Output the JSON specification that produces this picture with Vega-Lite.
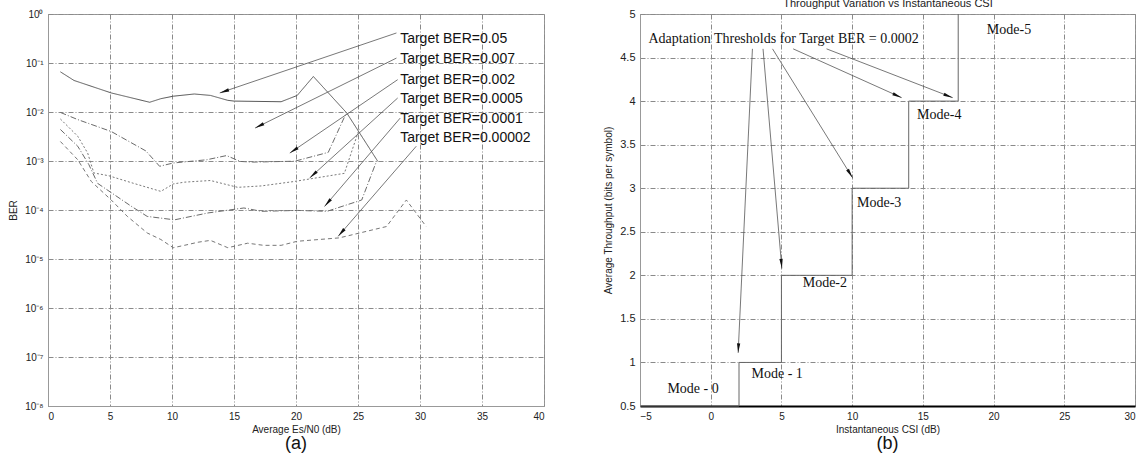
{
  "$schema": "https://vega.github.io/schema/vega-lite/v6.json",
  "autosize": {"type": "none"},
  "padding": {"left": 48, "top": 14, "right": 1090, "bottom": 451},
  "background": "white",
  "config": {
    "font": "Liberation Sans",
    "view": {"stroke": "#999", "strokeWidth": 1},
    "axis": {
      "labelFont": "Liberation Sans", "titleFont": "Liberation Sans",
      "labelFontSize": 10, "titleFontSize": 10, "titleFontWeight": "normal",
      "labelColor": "#222", "titleColor": "#222",
      "domainColor": "#999", "ticks": false, "labelPadding": 5,
      "gridColor": "#8a8a8a", "gridDash": [5, 2, 1, 2], "gridOpacity": 1, "gridWidth": 1
    },
    "title": {"font": "Liberation Sans", "fontWeight": "normal", "color": "#111"}
  },
  "datasets": {
    "curves": [
      {"curve": "C1", "esn0": 1, "ber": 0.066}, {"curve": "C1", "esn0": 2.1, "ber": 0.044}, {"curve": "C1", "esn0": 5.1, "ber": 0.0245}, {"curve": "C1", "esn0": 8.2, "ber": 0.0158}, {"curve": "C1", "esn0": 9.1, "ber": 0.0187}, {"curve": "C1", "esn0": 10.1, "ber": 0.021}, {"curve": "C1", "esn0": 11.8, "ber": 0.0233}, {"curve": "C1", "esn0": 13.1, "ber": 0.0218}, {"curve": "C1", "esn0": 14.5, "ber": 0.0173}, {"curve": "C1", "esn0": 15, "ber": 0.0167}, {"curve": "C1", "esn0": 18.8, "ber": 0.0162}, {"curve": "C1", "esn0": 20.1, "ber": 0.0218}, {"curve": "C1", "esn0": 21.4, "ber": 0.053}, {"curve": "C1", "esn0": 24.1, "ber": 0.0095}, {"curve": "C1", "esn0": 26.6, "ber": 0.00098},
      {"curve": "C2", "esn0": 1, "ber": 0.0098}, {"curve": "C2", "esn0": 2.4, "ber": 0.007}, {"curve": "C2", "esn0": 5.1, "ber": 0.004}, {"curve": "C2", "esn0": 6.3, "ber": 0.0027}, {"curve": "C2", "esn0": 7.9, "ber": 0.0016}, {"curve": "C2", "esn0": 9.0, "ber": 0.00078}, {"curve": "C2", "esn0": 10.1, "ber": 0.00091}, {"curve": "C2", "esn0": 12.8, "ber": 0.00106}, {"curve": "C2", "esn0": 14.4, "ber": 0.00129}, {"curve": "C2", "esn0": 15.5, "ber": 0.00098}, {"curve": "C2", "esn0": 16.5, "ber": 0.00095}, {"curve": "C2", "esn0": 19.9, "ber": 0.00099}, {"curve": "C2", "esn0": 22.6, "ber": 0.0015}, {"curve": "C2", "esn0": 24.0, "ber": 0.0089},
      {"curve": "C3", "esn0": 1, "ber": 0.0072}, {"curve": "C3", "esn0": 2.4, "ber": 0.0032}, {"curve": "C3", "esn0": 3.2, "ber": 0.00145}, {"curve": "C3", "esn0": 3.7, "ber": 0.00057}, {"curve": "C3", "esn0": 4.9, "ber": 0.0005}, {"curve": "C3", "esn0": 6.9, "ber": 0.00035}, {"curve": "C3", "esn0": 9.1, "ber": 0.00024}, {"curve": "C3", "esn0": 10.1, "ber": 0.00034}, {"curve": "C3", "esn0": 11, "ber": 0.00037}, {"curve": "C3", "esn0": 13.1, "ber": 0.0004}, {"curve": "C3", "esn0": 15.3, "ber": 0.00029}, {"curve": "C3", "esn0": 17.2, "ber": 0.00031}, {"curve": "C3", "esn0": 19.8, "ber": 0.00038}, {"curve": "C3", "esn0": 23.9, "ber": 0.00056}, {"curve": "C3", "esn0": 25.1, "ber": 0.0045},
      {"curve": "C4", "esn0": 1, "ber": 0.0044}, {"curve": "C4", "esn0": 2.4, "ber": 0.002}, {"curve": "C4", "esn0": 3.3, "ber": 0.00084}, {"curve": "C4", "esn0": 4.0, "ber": 0.00035}, {"curve": "C4", "esn0": 6.7, "ber": 0.00012}, {"curve": "C4", "esn0": 8.0, "ber": 0.000074}, {"curve": "C4", "esn0": 10.2, "ber": 0.000063}, {"curve": "C4", "esn0": 12.9, "ber": 0.000087}, {"curve": "C4", "esn0": 15.8, "ber": 0.00011}, {"curve": "C4", "esn0": 17.2, "ber": 0.000094}, {"curve": "C4", "esn0": 20.1, "ber": 0.000098}, {"curve": "C4", "esn0": 22.5, "ber": 0.000094}, {"curve": "C4", "esn0": 25.3, "ber": 0.00016}, {"curve": "C4", "esn0": 26.5, "ber": 0.001},
      {"curve": "C5", "esn0": 1, "ber": 0.0025}, {"curve": "C5", "esn0": 2.4, "ber": 0.00106}, {"curve": "C5", "esn0": 3.5, "ber": 0.00038}, {"curve": "C5", "esn0": 5.1, "ber": 0.00016}, {"curve": "C5", "esn0": 6.4, "ber": 0.000074}, {"curve": "C5", "esn0": 8.0, "ber": 0.000034}, {"curve": "C5", "esn0": 9.1, "ber": 0.000025}, {"curve": "C5", "esn0": 10.1, "ber": 0.000017}, {"curve": "C5", "esn0": 11, "ber": 0.000019}, {"curve": "C5", "esn0": 12.1, "ber": 0.000022}, {"curve": "C5", "esn0": 13.1, "ber": 0.000024}, {"curve": "C5", "esn0": 14.5, "ber": 0.000017}, {"curve": "C5", "esn0": 16.1, "ber": 0.000021}, {"curve": "C5", "esn0": 17.4, "ber": 0.000019}, {"curve": "C5", "esn0": 18.8, "ber": 0.000019}, {"curve": "C5", "esn0": 20.1, "ber": 0.000023}, {"curve": "C5", "esn0": 23.5, "ber": 0.000027}, {"curve": "C5", "esn0": 27.3, "ber": 0.000046}, {"curve": "C5", "esn0": 28.9, "ber": 0.00016}, {"curve": "C5", "esn0": 30.5, "ber": 0.000046}
    ],
    "arrowsA": [
      {"esn0": 28.1, "ber": 0.41, "esn0Tip": 13.85, "berTip": 0.0245},
      {"esn0": 28.1, "ber": 0.126, "esn0Tip": 16.7, "berTip": 0.0047},
      {"esn0": 28.2, "ber": 0.0457, "esn0Tip": 19.5, "berTip": 0.00145},
      {"esn0": 28.2, "ber": 0.0193, "esn0Tip": 21.1, "berTip": 0.00045},
      {"esn0": 28.4, "ber": 0.0075, "esn0Tip": 22.3, "berTip": 0.000118},
      {"esn0": 29.7, "ber": 0.002, "esn0Tip": 23.4, "berTip": 0.000029}
    ],
    "labelsA": [
      {"label": "Target BER=0.05", "esn0": 28.4, "ber": 0.309},
      {"label": "Target BER=0.007", "esn0": 28.4, "ber": 0.121},
      {"label": "Target BER=0.002", "esn0": 28.4, "ber": 0.0456},
      {"label": "Target BER=0.0005", "esn0": 28.4, "ber": 0.0184},
      {"label": "Target BER=0.0001", "esn0": 28.4, "ber": 0.0072},
      {"label": "Target BER=0.00002", "esn0": 28.4, "ber": 0.00295}
    ],
    "steps": [
      {"csi": -5, "tp": 0.5}, {"csi": 2, "tp": 1}, {"csi": 5, "tp": 2}, {"csi": 10, "tp": 3}, {"csi": 14, "tp": 4}, {"csi": 17.5, "tp": 5}
    ],
    "arrowsB": [
      {"csi": 2.95, "tp": 4.6, "csiTip": 1.94, "tpTip": 1.11},
      {"csi": 3.7, "tp": 4.6, "csiTip": 5.03, "tpTip": 2.08},
      {"csi": 4.37, "tp": 4.6, "csiTip": 10.03, "tpTip": 3.12},
      {"csi": 5.83, "tp": 4.6, "csiTip": 13.5, "tpTip": 4.04},
      {"csi": 8.19, "tp": 4.6, "csiTip": 17.11, "tpTip": 4.04}
    ],
    "modes": [
      {"label": "Mode - 0", "csi": -1.25, "tp": 0.695},
      {"label": "Mode - 1", "csi": 4.7, "tp": 0.87},
      {"label": "Mode-2", "csi": 8.07, "tp": 1.91},
      {"label": "Mode-3", "csi": 11.91, "tp": 2.83},
      {"label": "Mode-4", "csi": 16.16, "tp": 3.84},
      {"label": "Mode-5", "csi": 21.09, "tp": 4.82},
      {"label": "Adaptation Thresholds for Target BER = 0.0002", "csi": 5.15, "tp": 4.71}
    ]
  },
  "bounds": "flush",
  "spacing": 96,
  "hconcat": [
    {
      "width": 496, "height": 392,
      "title": {"text": "(a)", "orient": "bottom", "fontSize": 18, "offset": 1},
      "layer": [
        {
          "data": {"name": "curves"},
          "mark": {"type": "line", "strokeWidth": 1},
          "encoding": {
            "x": {"field": "esn0", "type": "quantitative", "scale": {"domain": [0, 40], "nice": false},
                  "axis": {"values": [0, 5, 10, 15, 20, 25, 30, 35, 40], "title": "Average Es/N0 (dB)", "titlePadding": 3}},
            "y": {"field": "ber", "type": "quantitative", "scale": {"type": "log", "domain": [1e-8, 1], "nice": false},
                  "axis": {"values": [1e-8, 1e-7, 1e-6, 1e-5, 1e-4, 1e-3, 1e-2, 1e-1, 1], "title": "BER", "titlePadding": 6,
                           "labelExpr": "['10⁻⁸','10⁻⁷','10⁻⁶','10⁻⁵','10⁻⁴','10⁻³','10⁻²','10⁻¹','10⁰'][round(log(datum.value)/LN10)+8]"}},
            "detail": {"field": "curve"},
            "strokeDash": {"field": "curve", "type": "nominal", "legend": null,
                           "scale": {"domain": ["C1", "C2", "C3", "C4", "C5"], "range": [[1, 0], [6, 2, 1, 2], [2, 2], [6, 2, 1, 2], [4, 3]]}},
            "color": {"field": "curve", "type": "nominal", "legend": null,
                      "scale": {"domain": ["C1", "C2", "C3", "C4", "C5"], "range": ["#555", "#6a6a6a", "#7a7a7a", "#6a6a6a", "#777"]}}
          }
        },
        {
          "data": {"name": "arrowsA"},
          "mark": {"type": "rule", "color": "#555", "strokeWidth": 0.8},
          "encoding": {
            "x": {"field": "esn0", "type": "quantitative"},
            "y": {"field": "ber", "type": "quantitative"},
            "x2": {"field": "esn0Tip"},
            "y2": {"field": "berTip"}
          }
        },
        {
          "data": {"name": "arrowsA"},
          "transform": [
            {"calculate": "atan2((datum.esn0Tip - datum.esn0) * 12.4, -((log(datum.ber) - log(datum.berTip)) / LN10 * 49)) * 180 / PI", "as": "ang"}
          ],
          "mark": {"type": "point", "shape": "M0,0L-0.35,2L0.35,2Z", "filled": true, "color": "#111", "size": 90, "opacity": 1},
          "encoding": {
            "x": {"field": "esn0Tip", "type": "quantitative"},
            "y": {"field": "berTip", "type": "quantitative"},
            "angle": {"field": "ang", "type": "quantitative", "scale": null}
          }
        },
        {
          "data": {"name": "labelsA"},
          "mark": {"type": "text", "align": "left", "baseline": "middle", "fontSize": 14, "color": "#111", "font": "Liberation Sans"},
          "encoding": {
            "x": {"field": "esn0", "type": "quantitative"},
            "y": {"field": "ber", "type": "quantitative"},
            "text": {"field": "label"}
          }
        }
      ]
    },
    {
      "width": 495, "height": 392,
      "title": {"text": "(b)", "orient": "bottom", "fontSize": 18, "offset": 1},
      "resolve": {"axis": {"x": "independent"}},
      "layer": [
        {
          "data": {"name": "steps"},
          "mark": {"type": "line", "interpolate": "step-after", "color": "#666", "strokeWidth": 1},
          "encoding": {
            "x": {"field": "csi", "type": "quantitative", "scale": {"domain": [-5, 30], "nice": false},
                  "axis": {"values": [-5, 0, 5, 10, 15, 20, 25, 30], "title": "Instantaneous CSI      (dB)", "titlePadding": 3,
                           "domainColor": "#000", "domainWidth": 2}},
            "y": {"field": "tp", "type": "quantitative", "scale": {"domain": [0.5, 5], "nice": false},
                  "axis": {"values": [0.5, 1, 1.5, 2, 2.5, 3, 3.5, 4, 4.5, 5], "format": "~g", "labelFontSize": 11, "title": "Average Throughput (bits per symbol)", "titlePadding": 6}}
          }
        },
        {
          "data": {"name": "arrowsB"},
          "mark": {"type": "rule", "color": "#555", "strokeWidth": 0.8},
          "encoding": {
            "x": {"field": "csi", "type": "quantitative",
                  "axis": {"orient": "top", "title": "Throughput Variation vs Instantaneous CSI", "labels": false, "grid": false, "domain": false, "titleFontSize": 11, "titlePadding": 6}},
            "y": {"field": "tp", "type": "quantitative"},
            "x2": {"field": "csiTip"},
            "y2": {"field": "tpTip"}
          }
        },
        {
          "data": {"name": "arrowsB"},
          "transform": [
            {"calculate": "atan2((datum.csiTip - datum.csi) * 14.13, -((datum.tp - datum.tpTip) * 87.1)) * 180 / PI", "as": "ang"}
          ],
          "mark": {"type": "point", "shape": "M0,0L-0.35,2L0.35,2Z", "filled": true, "color": "#111", "size": 90, "opacity": 1},
          "encoding": {
            "x": {"field": "csiTip", "type": "quantitative", "axis": null},
            "y": {"field": "tpTip", "type": "quantitative"},
            "angle": {"field": "ang", "type": "quantitative", "scale": null}
          }
        },
        {
          "data": {"name": "modes"},
          "mark": {"type": "text", "align": "center", "baseline": "middle", "fontSize": 14, "color": "#111", "font": "Liberation Serif"},
          "encoding": {
            "x": {"field": "csi", "type": "quantitative", "axis": null},
            "y": {"field": "tp", "type": "quantitative"},
            "text": {"field": "label"}
          }
        }
      ]
    }
  ]
}
